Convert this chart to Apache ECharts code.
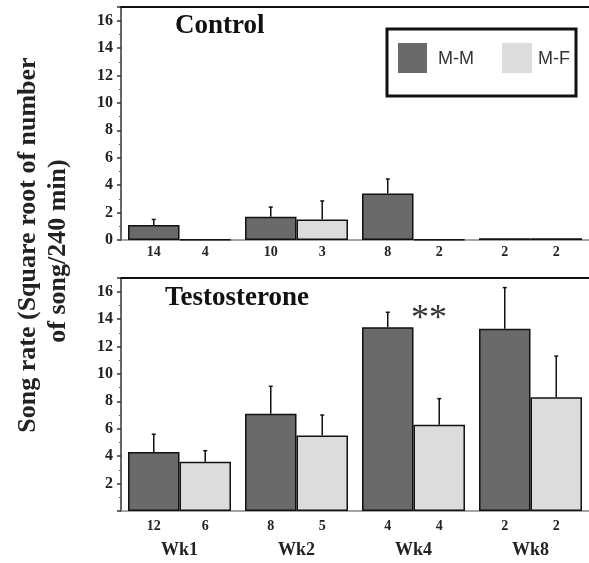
<!DOCTYPE html>
<html>
<head>
<meta charset="utf-8">
<script src="https://cdn.jsdelivr.net/npm/echarts@6/dist/echarts.min.js"></script>
<style>
  html, body { margin: 0; padding: 0; background: #fff; }
  #main { width: 589px; height: 563px; }
</style>
</head>
<body>
<div id="main"></div>
<script>
// categories (weeks)
const weeks = ['Wk1', 'Wk2', 'Wk4', 'Wk8']

// Control panel
const ctrlMM = [1.1, 1.7, 3.4, 0.12]
const ctrlMMErr = [0.4, 0.7, 1.05, 0]
const ctrlMF = [0.05, 1.5, 0.05, 0.12]
const ctrlMFErr = [0, 1.35, 0, 0]
const ctrlNMM = [14, 10, 8, 2]
const ctrlNMF = [4, 3, 2, 2]

// Testosterone panel
const testMM = [4.3, 7.1, 13.4, 13.3]
const testMMErr = [1.3, 2.0, 1.1, 3.0]
const testMF = [3.6, 5.5, 6.3, 8.3]
const testMFErr = [0.8, 1.5, 1.9, 3.0]
const testNMM = [12, 8, 4, 2]
const testNMF = [6, 5, 4, 2]

const DARK = '#6a6a6a'
const LIGHT = '#dcdcdc'
const SERIF = '"Liberation Serif", "DejaVu Serif", serif'
const GAP = 0.12

const chart = echarts.init(document.getElementById('main'))

function yAxisCfg(gridIndex, showZero) {
  return {
    type: 'value',
    gridIndex: gridIndex,
    min: 0,
    max: 17,
    interval: 2,
    splitLine: { show: false },
    axisLine: { show: true, lineStyle: { color: '#333', width: 1.5 } },
    axisTick: { show: true, length: 4, lineStyle: { color: '#333', width: 1.5 } },
    minorTick: { show: true, splitNumber: 2, length: 2, lineStyle: { color: '#555' } },
    axisLabel: {
      showMaxLabel: false,
      margin: 8,
      fontFamily: SERIF,
      fontWeight: 'bold',
      fontSize: 16,
      color: '#222',
      formatter: function (v) { return (!showZero && v === 0) ? '' : v }
    }
  }
}

function xAxisCfg(gridIndex, showLabels) {
  return {
    type: 'category',
    gridIndex: gridIndex,
    data: weeks,
    axisLine: { show: true, lineStyle: { color: '#888', width: 1.5 } },
    axisTick: { show: false },
    axisLabel: {
      show: showLabels,
      margin: 30,
      fontFamily: SERIF,
      fontWeight: 'bold',
      fontSize: 18,
      color: '#222'
    }
  }
}

// only a line along the top edge of each panel
function topBorder(gridIndex) {
  return {
    type: 'category',
    gridIndex: gridIndex,
    position: 'top',
    data: weeks,
    axisLine: { show: true, lineStyle: { color: '#111', width: 2 } },
    axisTick: { show: false },
    axisLabel: { show: false }
  }
}

function barSeries(name, values, nList, color, xi, yi, dist) {
  return {
    name: name,
    type: 'bar',
    xAxisIndex: xi,
    yAxisIndex: yi,
    data: values,
    barGap: '0%',
    barCategoryGap: (GAP * 100) + '%',
    itemStyle: { color: color, borderColor: '#111', borderWidth: 1.5 },
    label: {
      show: true,
      position: 'bottom',
      distance: dist,
      fontFamily: SERIF,
      fontWeight: 'bold',
      fontSize: 14,
      color: '#222',
      formatter: function (p) { return nList[p.dataIndex] }
    }
  }
}

// upward error bars, side -1 = left bar, 1 = right bar
function errSeries(values, errs, side, xi, yi) {
  const data = []
  for (let i = 0; i < values.length; i++) {
    if (errs[i] > 0) data.push([i, values[i], values[i] + errs[i]])
  }
  return {
    type: 'custom',
    xAxisIndex: xi,
    yAxisIndex: yi,
    z: 5,
    silent: true,
    data: data,
    renderItem: function (params, api) {
      const c = api.value(0)
      const lo = api.coord([c, api.value(1)])
      const hi = api.coord([c, api.value(2)])
      const band = api.size([1, 0])[0]
      const barW = band * (1 - GAP) / 2
      const x = lo[0] + side * barW / 2
      const style = { stroke: '#111', lineWidth: 1.5 }
      return {
        type: 'group',
        children: [
          { type: 'line', shape: { x1: x, y1: lo[1], x2: x, y2: hi[1] }, style: style },
          { type: 'line', shape: { x1: x - 2, y1: hi[1], x2: x + 2, y2: hi[1] }, style: style }
        ]
      }
    }
  }
}

const option = {
  animation: false,
  grid: [
    { left: 121, top: 7, width: 471, height: 233 },
    { left: 121, top: 278, width: 471, height: 233 }
  ],
  xAxis: [xAxisCfg(0, false), topBorder(0), xAxisCfg(1, true), topBorder(1)],
  yAxis: [yAxisCfg(0, true), yAxisCfg(1, false)],
  series: [
    barSeries('M-M', ctrlMM, ctrlNMM, DARK, 0, 0, 5),
    barSeries('M-F', ctrlMF, ctrlNMF, LIGHT, 0, 0, 5),
    barSeries('M-M', testMM, testNMM, DARK, 2, 1, 8),
    barSeries('M-F', testMF, testNMF, LIGHT, 2, 1, 8),
    errSeries(ctrlMM, ctrlMMErr, -1, 0, 0),
    errSeries(ctrlMF, ctrlMFErr, 1, 0, 0),
    errSeries(testMM, testMMErr, -1, 2, 1),
    errSeries(testMF, testMFErr, 1, 2, 1)
  ],
  graphic: [
    // y axis title, two rotated lines
    {
      type: 'text', x: 28, y: 245, rotation: Math.PI / 2,
      style: {
        text: 'Song rate (Square root of number',
        font: 'bold 26px ' + SERIF, fill: '#222',
        textAlign: 'center', textVerticalAlign: 'middle'
      }
    },
    {
      type: 'text', x: 58, y: 251, rotation: Math.PI / 2,
      style: {
        text: 'of song/240 min)',
        font: 'bold 26px ' + SERIF, fill: '#222',
        textAlign: 'center', textVerticalAlign: 'middle'
      }
    },
    // panel titles
    {
      type: 'text', x: 175, y: 26,
      style: { text: 'Control', font: 'bold 27px ' + SERIF, fill: '#111', textVerticalAlign: 'middle' }
    },
    {
      type: 'text', x: 165, y: 298,
      style: { text: 'Testosterone', font: 'bold 27px ' + SERIF, fill: '#111', textVerticalAlign: 'middle' }
    },
    {
      type: 'text', x: 429, y: 320,
      style: { text: '**', font: '36px ' + SERIF, fill: '#333', textAlign: 'center', textVerticalAlign: 'middle' }
    },
    // legend box
    {
      type: 'rect', shape: { x: 387, y: 29, width: 189, height: 67 },
      style: { fill: '#fff', stroke: '#111', lineWidth: 3 }
    },
    { type: 'rect', shape: { x: 398, y: 43, width: 29, height: 30 }, style: { fill: DARK } },
    {
      type: 'text', x: 438, y: 59,
      style: { text: 'M-M', font: '18px "Liberation Sans", Arial, sans-serif', fill: '#333', textVerticalAlign: 'middle' }
    },
    { type: 'rect', shape: { x: 502, y: 43, width: 30, height: 30 }, style: { fill: LIGHT } },
    {
      type: 'text', x: 538, y: 59,
      style: { text: 'M-F', font: '18px "Liberation Sans", Arial, sans-serif', fill: '#333', textVerticalAlign: 'middle' }
    }
  ]
}

chart.setOption(option)
</script>
</body>
</html>
